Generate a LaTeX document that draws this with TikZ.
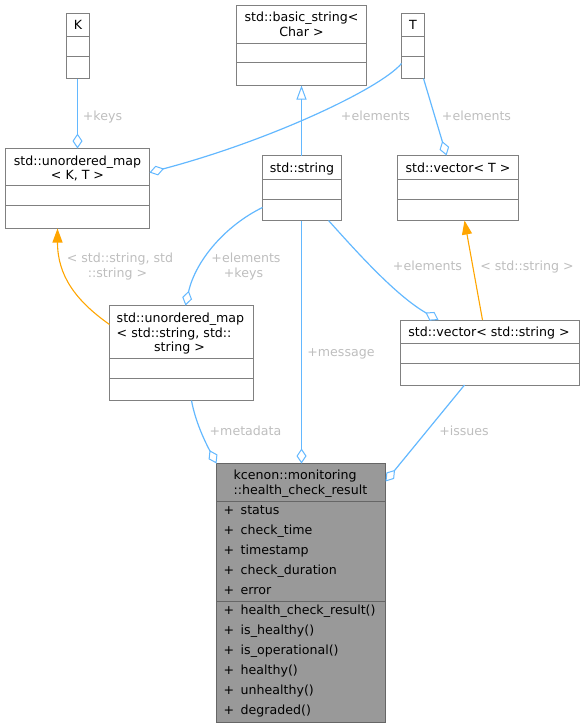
\documentclass[tikz,border=0pt]{standalone}
\usepackage{fontspec}
\setmainfont{DejaVu Sans}
\usetikzlibrary{arrows.meta,calc}
\definecolor{edgeblue}{HTML}{63B8FF}
\definecolor{lblgray}{HTML}{BEBEBE}
\definecolor{bordgray}{HTML}{808080}
\definecolor{rootfill}{HTML}{999999}
\definecolor{rootbord}{HTML}{666666}
\definecolor{inhorange}{HTML}{FFA500}
\begin{document}
\begin{tikzpicture}[x=1pt,y=-1pt,
  font=\fontsize{12.6}{14.5}\selectfont,
  cbox/.style={draw=bordgray, fill=white, line width=1pt, inner sep=0pt, outer sep=0pt, anchor=north west},
  rootbox/.style={cbox, draw=rootbord, fill=rootfill},
  tx/.style={inner sep=0pt, anchor=base},
  txl/.style={inner sep=0pt, anchor=base west},
  lbl/.style={inner sep=0pt, anchor=base, text=lblgray},
  edge/.style={draw=edgeblue, line width=1.2pt},
  agg/.style={edge, -{Diamond[fill=white, length=15pt, width=10pt, line width=1pt]}},
  inh/.style={edge, -{Triangle[fill=white, length=14pt, width=10pt, line width=1pt]}},
  tmpl/.style={draw=inhorange, line width=1.1pt, -{Triangle[fill=inhorange, length=14pt, width=10pt]}},
  sep/.style={draw=bordgray, line width=1pt},
  rsep/.style={draw=rootbord, line width=1pt},
]
\useasboundingbox (0,0) rectangle (584,728);
\begin{scope}[shift={(0.5,0.5)}]

% ---- K
\node[cbox, minimum width=23pt, minimum height=65pt] (k) at (66,13) {};
\draw[sep] (66,36) -- (89,36); \draw[sep] (66,56) -- (89,56);
\node[tx] (kt) at (77.5,29) {K};

% ---- basic_string
\node[cbox, minimum width=130pt, minimum height=80pt] (basic) at (236,5) {};
\draw[sep] (236,43) -- (366,43); \draw[sep] (236,62) -- (366,62);
\node[tx] (basict1) at (301,21) {std::basic\_string<};
\node[tx] (basict2) at (301,35.5) {Char >};

% ---- T
\node[cbox, minimum width=23pt, minimum height=65pt] (t) at (401,13) {};
\draw[sep] (401,36) -- (424,36); \draw[sep] (401,56) -- (424,56);
\node[tx] (tt) at (412.5,29) {T};

% ---- unordered_map<K,T>
\node[cbox, minimum width=144pt, minimum height=80pt] (umapKT) at (5,148) {};
\draw[sep] (5,185) -- (149,185); \draw[sep] (5,205) -- (149,205);
\node[tx] (umapKTt1) at (77,165) {std::unordered\_map};
\node[tx] (umapKTt2) at (77,179) {< K, T >};

% ---- std::string
\node[cbox, minimum width=79pt, minimum height=65pt] (str) at (262,155) {};
\draw[sep] (262,179) -- (341,179); \draw[sep] (262,199) -- (341,199);
\node[tx] (strt) at (301.5,172) {std::string};

% ---- vector<T>
\node[cbox, minimum width=121pt, minimum height=65pt] (vecT) at (397,155) {};
\draw[sep] (397,179) -- (518,179); \draw[sep] (397,199) -- (518,199);
\node[tx] (vecTt) at (457.5,172) {std::vector< T >};

% ---- unordered_map<string,string>
\node[cbox, minimum width=144pt, minimum height=95pt] (umapSS) at (109,305) {};
\draw[sep] (109,357.5) -- (253,357.5); \draw[sep] (109,378) -- (253,378);
\node[txl] (umapSSt1) at (116,322) {std::unordered\_map};
\node[txl] (umapSSt2) at (116,336.5) {< std::string, std::};
\node[tx] (umapSSt3) at (179,351) {string >};

% ---- vector<string>
\node[cbox, minimum width=179pt, minimum height=65pt] (vecS) at (400,319.5) {};
\draw[sep] (400,343) -- (579,343); \draw[sep] (400,363) -- (579,363);
\node[tx] (vecSt) at (488.5,335.5) {std::vector< std::string >};

% ---- health_check_result
\node[rootbox, minimum width=169pt, minimum height=259pt] (hcr) at (216,463) {};
\draw[rsep] (216,501) -- (385,501); \draw[rsep] (216,600.5) -- (385,600.5);
\node[txl] (hcrt1) at (233,479) {kcenon::monitoring};
\node[txl] (hcrt2) at (233,493.5) {::health\_check\_result};
\foreach \nm [count=\i from 0] in {status,check\_time,timestamp,check\_duration,error,health\_check\_result(),is\_healthy(),is\_operational(),healthy(),unhealthy(),degraded()} {
  \node[txl] (hp\i) at (223,514+20*\i) {+};
  \node[txl] (hm\i) at (240,514+20*\i) {\nm};
}

% ---- connectors
\draw[agg] ($(k.south)+(-0.5,0)$) -- ($(k.south |- umapKT.north)+(-0.5,0)$);
\node[lbl] (l1) at (102,120) {+keys};

\draw[agg] ($(t.south west)+(0,-15)$) .. controls (380,88) and (270,140) .. ($(umapKT.north east)+(0,24)$);
\node[lbl] (l2) at (375,120) {+elements};

\draw[agg] ($(t.south east)+(-1,0)$) -- ($(vecT.north west)+(49,0)$);
\node[lbl] (l3) at (476,120) {+elements};

\draw[inh] ($(str.north)+(-0.5,0)$) -- ($(str.north |- basic.south)+(-0.5,0)$);

\draw[agg] ($(str.south west)+(0,-13)$) .. controls (225,225) and (195,260) .. ($(umapSS.north west)+(76,0)$);
\node[lbl] (l4a) at (245.5,262) {+elements};
\node[lbl] (l4b) at (243,276.5) {+keys};

\draw[agg] ($(str.south west)+(66,0)$) .. controls (355,250) and (395,295) .. ($(vecS.north west)+(38,0)$);
\node[lbl] (l5) at (427,269.5) {+elements};

\draw[agg] ($(str.south)+(-0.5,0)$) -- ($(str.south |- hcr.north)+(-0.5,0)$);
\node[lbl] (l6) at (340.5,356) {+message};

\draw[tmpl] ($(umapSS.north west)+(0,19)$) .. controls (75,300) and (57,275) .. ($(umapKT.south west)+(52,0)$);
\node[lbl] (l7a) at (119.5,262) {< std::string, std};
\node[lbl] (l7b) at (117,276.5) {::string >};

\draw[tmpl] ($(vecS.north west)+(82,0)$) -- ($(vecT.south west)+(67,0)$);
\node[lbl] (l8) at (526.5,269.5) {< std::string >};

\draw[agg] ($(umapSS.south west)+(82,0)$) .. controls (195,422) and (205,442) .. ($(hcr.north west)+(0,0)$);
\node[lbl] (l9) at (245,434.5) {+metadata};

\draw[agg] ($(vecS.south west)+(64,0)$) -- ($(hcr.north east)+(0,18)$);
\node[lbl] (l10) at (463.5,434.5) {+issues};
\end{scope}
\end{tikzpicture}
\end{document}
